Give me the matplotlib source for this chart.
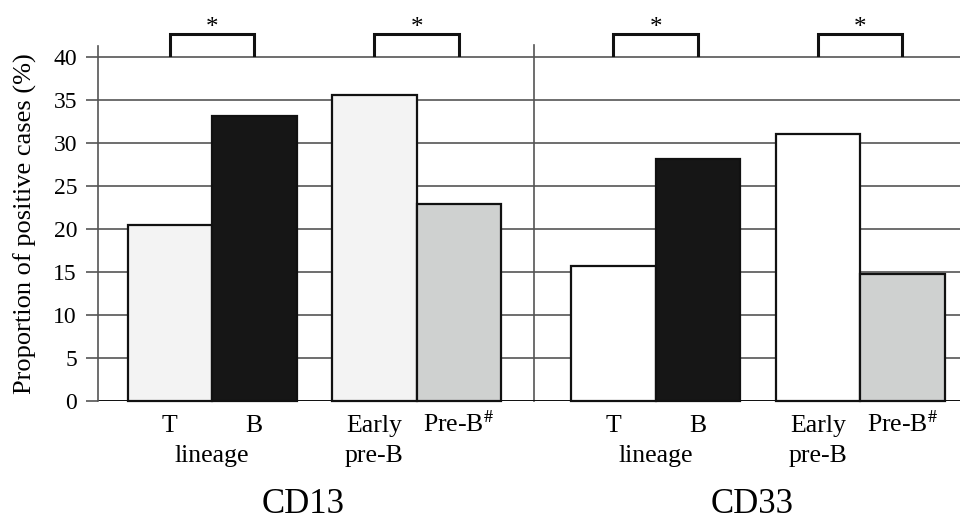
import matplotlib.pyplot as plt

plt.rcParams['font.family'] = ['Liberation Serif', 'DejaVu Serif']
plt.rcParams['mathtext.fontset'] = 'stix'

# values (percent of positive cases)
panels = ['CD13', 'CD33']
categories = ['T', 'B', 'Early\npre-B', r'Pre-B$^{\#}$']
cd13_values = [20.5, 33.1, 35.6, 22.9]
cd33_values = [15.7, 28.2, 31.1, 14.8]
cd13_colors = ['#f3f3f3', '#161616', '#f3f3f3', '#cfd1d0']
cd33_colors = ['#ffffff', '#161616', '#ffffff', '#cfd1d0']
yticks = [0, 5, 10, 15, 20, 25, 30, 35, 40]

grid_col = '#555555'

fig = plt.figure(figsize=(9.6, 5.21), dpi=100)
ax = fig.add_axes([98 / 960, 1 - 401 / 521, 862 / 960, 355 / 521])

offsets = [0.85, 6.10]
title_shift = [1.58, 1.64]
within = [0, 1, 2.42, 3.42]

for off, shift, vals, cols, name in zip(offsets, title_shift,
                                        [cd13_values, cd33_values],
                                        [cd13_colors, cd33_colors], panels):
    xs = [off + w for w in within]
    ax.bar(xs, vals, width=1.0, color=cols, edgecolor='#111111',
           linewidth=1.6, zorder=3, clip_on=False)
    # category labels, one text per line
    for i, lab in enumerate(categories):
        for j, line in enumerate(lab.split('\n')):
            ax.text(xs[i], -3.6 - 3.55 * j, line, ha='center',
                    va='baseline', fontsize=18.5)
    ax.text((xs[0] + xs[1]) / 2, -7.1, 'lineage', ha='center',
            va='baseline', fontsize=18.5)
    ax.text(off + shift, -13.0, name, ha='center', va='baseline',
            fontsize=25)
    # significance brackets
    for a, b in [(0, 1), (2, 3)]:
        ax.plot([xs[a], xs[a], xs[b], xs[b]], [40.25, 42.7, 42.7, 40.25],
                color='#111111', lw=2.2, clip_on=False, zorder=4,
                solid_joinstyle='miter')
        ax.text((xs[a] + xs[b]) / 2, 42.75, '*', ha='center',
                va='baseline', fontsize=18)

ax.set_xlim(0, 862 / 84.5)
ax.set_ylim(0, 41.3)
ax.set_yticks(yticks)
ax.set_xticks([])
ax.yaxis.grid(True, color=grid_col, lw=1.2, zorder=0)
ax.tick_params(axis='y', length=8.6, width=1.2, color=grid_col,
               labelsize=17, pad=6.5)
ax.axhline(0, color='#111111', lw=1.4, zorder=2)
ax.axvline(5.16, ymin=0, ymax=41.4 / 41.3, color=grid_col, lw=1.2,
           zorder=1, clip_on=False)

for s in ['top', 'right', 'bottom']:
    ax.spines[s].set_visible(False)
ax.spines['left'].set_color(grid_col)
ax.spines['left'].set_linewidth(1.2)

ax.set_ylabel('Proportion of positive cases (%)', fontsize=19, labelpad=12)

fig.savefig('out.png', dpi=100)
